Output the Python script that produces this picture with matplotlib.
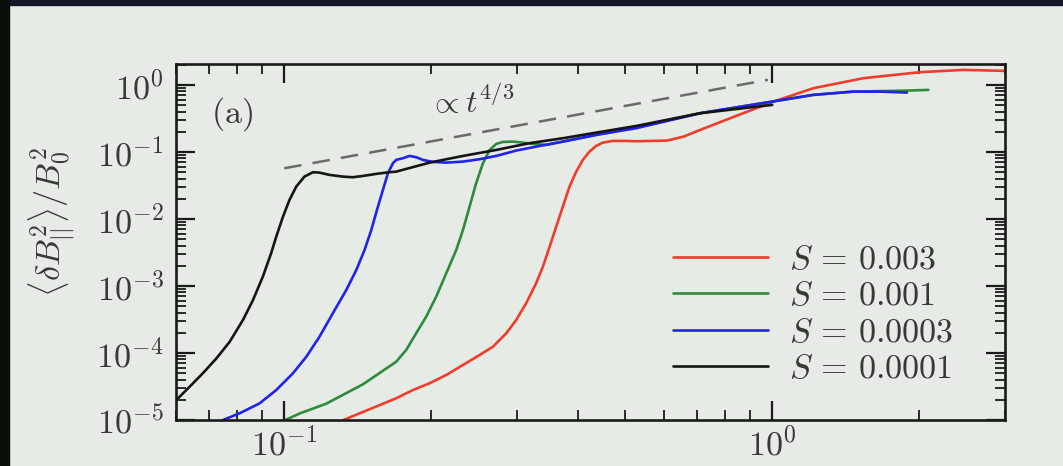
import math
import matplotlib.pyplot as plt
from matplotlib.patches import Rectangle
from matplotlib.ticker import FixedLocator, FuncFormatter, LogLocator, NullFormatter

plt.rcParams['mathtext.fontset'] = 'cm'
plt.rcParams['font.family'] = 'serif'

# growth of the parallel field fluctuation for four shear rates
red_t = [0.1322, 0.1696, 0.1835, 0.1985, 0.2148, 0.2324, 0.2513, 0.2677, 0.2851, 0.2988,
         0.3131, 0.3283, 0.3389, 0.3499, 0.3609, 0.3724, 0.3842, 0.3966, 0.4093, 0.4222,
         0.4358, 0.4498, 0.4714, 0.4941, 0.5265, 0.6083, 0.6578, 0.712, 0.82, 1.006,
         1.215, 1.538, 2.01, 2.466, 3.0]
red_y = [1.0e-5, 2.11e-5, 2.8e-5, 3.53e-5, 4.7e-5, 6.62e-5, 9.3e-5, 1.24e-4, 1.97e-4, 3.11e-4,
         5.5e-4, 1.1e-3, 1.94e-3, 3.86e-3, 7.7e-3, 0.0153, 0.0303, 0.0508, 0.076, 0.101,
         0.123, 0.1377, 0.146, 0.146, 0.1444, 0.1475, 0.169, 0.213, 0.318, 0.563,
         0.893, 1.259, 1.548, 1.674, 1.618]

green_t = [0.1005, 0.1078, 0.1219, 0.1449, 0.1696, 0.1778, 0.1864, 0.1954, 0.2048, 0.2148,
           0.2252, 0.2324, 0.2398, 0.2473, 0.2554, 0.2636, 0.2719, 0.2807, 0.2942, 0.3084,
           0.3233, 0.3443, 0.3724, 0.4358, 0.5265, 0.712, 1.0, 1.213, 1.466, 1.888, 2.09]
green_y = [1.0e-5, 1.26e-5, 1.75e-5, 3.4e-5, 7.4e-5, 1.11e-4, 1.97e-4, 3.48e-4, 6.9e-4, 1.55e-3,
           3.45e-3, 6.85e-3, 0.0153, 0.0341, 0.0678, 0.107, 0.1316, 0.141, 0.1425, 0.1377,
           0.1316, 0.1272, 0.1425, 0.1794, 0.234, 0.378, 0.563, 0.709, 0.794, 0.822, 0.842]

blue_t = [0.0749, 0.0810, 0.0890, 0.0963, 0.1042, 0.1110, 0.1181, 0.1258, 0.1340, 0.1405,
          0.1461, 0.1508, 0.1556, 0.1593, 0.1631, 0.1670, 0.1696, 0.175, 0.1806, 0.1864,
          0.1924, 0.2017, 0.2148, 0.2324, 0.2513, 0.2719, 0.2988, 0.3283, 0.3724, 0.4358,
          0.5265, 0.712, 0.9987, 1.213, 1.466, 1.664, 1.888]
blue_y = [1.0e-5, 1.26e-5, 1.77e-5, 2.8e-5, 4.98e-5, 8.8e-5, 1.75e-4, 3.92e-4, 8.7e-4, 1.73e-3,
          3.45e-3, 6.85e-3, 0.0153, 0.0271, 0.0481, 0.0678, 0.076, 0.0805, 0.0871, 0.0833,
          0.076, 0.0709, 0.0692, 0.0717, 0.0778, 0.0871, 0.1047, 0.12, 0.1425, 0.1794,
          0.226, 0.378, 0.563, 0.709, 0.794, 0.794, 0.768]

black_t = [0.0601, 0.0640, 0.0681, 0.0726, 0.0773, 0.0823, 0.0863, 0.0904, 0.0940, 0.0963,
           0.0994, 0.1025, 0.1058, 0.1100, 0.1145, 0.1181, 0.1238, 0.1319, 0.1383, 0.1449,
           0.1543, 0.1643, 0.1696, 0.1985, 0.2324, 0.2719, 0.3181, 0.3724, 0.4358, 0.5265,
           0.712, 1.0]
black_y = [1.99e-5, 3.14e-5, 4.98e-5, 8.3e-5, 1.47e-4, 3.11e-4, 6.18e-4, 1.38e-3, 3.08e-3, 5.44e-3,
           0.0108, 0.0192, 0.0303, 0.0428, 0.0498, 0.0491, 0.0454, 0.0428, 0.0419, 0.0438,
           0.0470, 0.0498, 0.0508, 0.0692, 0.0871, 0.107, 0.135, 0.160, 0.194, 0.244,
           0.378, 0.503]

# t^{4/3} guide line end points
guide_t = [0.1, 0.98]
guide_y = [0.057, 1.19]

labels = [r'$S\,=\,0.003$', r'$S\,=\,0.001$', r'$S\,=\,0.0003$', r'$S\,=\,0.0001$']
colors = ['#f03c2c', '#2f8a3c', '#2222ee', '#151515']

bg = '#e6ebe6'
ink = '#383838'
fs = 24.5

fig = plt.figure(figsize=(10.63, 4.66), dpi=100, facecolor=bg)
fig.patches.append(Rectangle((0, 1 - 5 / 466), 1, 5 / 466, transform=fig.transFigure,
                             color='#16172b', zorder=0))
fig.patches.append(Rectangle((0, 0), 9 / 1063, 1, transform=fig.transFigure,
                             color='#0a0d0a', zorder=0))

ax = fig.add_axes([176 / 1063, 46 / 466, 829 / 1063, 356 / 466])
ax.set_facecolor(bg)

series = [(red_t, red_y), (green_t, green_y), (blue_t, blue_y), (black_t, black_y)]
for (t, y), c, lab in zip(series, colors, labels):
    ax.plot(t, y, color=c, lw=1.9, label=lab, solid_joinstyle='round',
            solid_capstyle='round')

ax.plot(guide_t, guide_y, color='#6a6a6a', lw=1.8, dashes=(7, 4.5))

ax.set_xscale('log')
ax.set_yscale('log')
ax.set_xlim(0.06, 3.0)
ax.set_ylim(1e-5, 2.05)


def decade(v, pos):
    return r'$10^{%d}$' % round(math.log10(v))


ax.xaxis.set_major_locator(FixedLocator([0.1, 1.0]))
ax.xaxis.set_major_formatter(FuncFormatter(decade))
ax.xaxis.set_minor_locator(LogLocator(base=10, subs=range(2, 10)))
ax.xaxis.set_minor_formatter(NullFormatter())
ax.yaxis.set_major_locator(FixedLocator([1e-5, 1e-4, 1e-3, 1e-2, 1e-1, 1.0]))
ax.yaxis.set_major_formatter(FuncFormatter(decade))
ax.yaxis.set_minor_locator(LogLocator(base=10, subs=range(2, 10), numticks=20))
ax.yaxis.set_minor_formatter(NullFormatter())

ax.tick_params(which='both', direction='in', top=True, right=True, colors='#1a1a1a',
               labelcolor=ink, labelsize=fs)
ax.tick_params(which='major', length=14, width=1.6)
ax.tick_params(which='minor', length=7, width=1.3)
ax.tick_params(axis='y', pad=9)
ax.tick_params(axis='x', pad=5)
for s in ax.spines.values():
    s.set_linewidth(1.9)
    s.set_color('#1a1a1a')

fig.text(52 / 1063, 1 - 222 / 466, r'$\langle \delta B_{||}^{2} \rangle / B_0^{2}$',
         rotation=90, ha='center', va='center', fontsize=fs, color=ink)
ax.text(0.0675, 0.86, r'$\mathrm{(a)}$', transform=ax.transAxes, ha='center', va='center',
        fontsize=fs, color=ink)
ax.text(0.305, 0.862, r'$\propto t^{4/3}$', transform=ax.transAxes, ha='left',
        va='baseline', fontsize=23, color=ink)

leg = ax.legend(loc='upper left', bbox_to_anchor=(0.5995, 0.495), frameon=False,
                fontsize=fs, handlelength=2.8, handletextpad=0.6, labelspacing=0.13,
                borderaxespad=0, borderpad=0)
for txt in leg.get_texts():
    txt.set_color(ink)

fig.savefig('out.png', dpi=100, facecolor=bg)
